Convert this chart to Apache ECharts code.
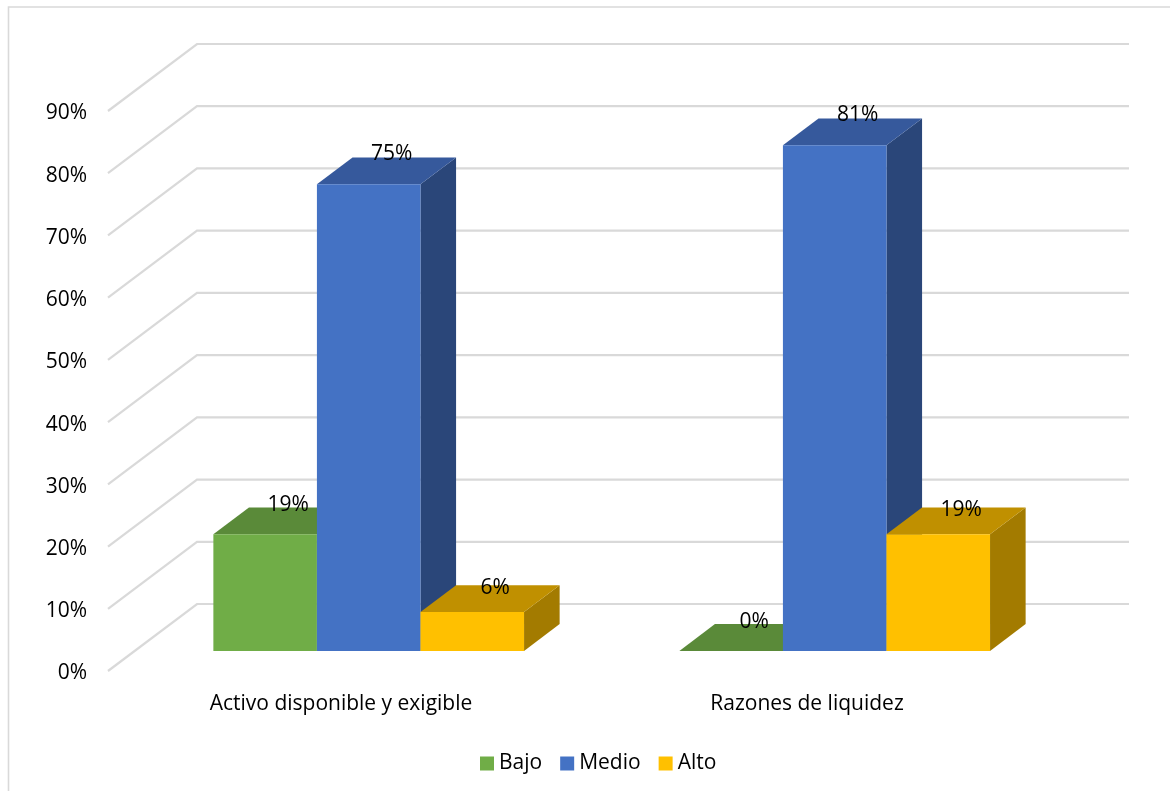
<!DOCTYPE html>
<html><head><meta charset="utf-8">
<style>html,body{margin:0;padding:0;background:#fff}#c{width:1170px;height:791px}</style>
<script src="https://cdn.jsdelivr.net/npm/echarts@6/dist/echarts.min.js"></script>
</head><body><div id="c"></div>
<script>
const categories = ["Activo disponible y exigible", "Razones de liquidez"];
const bajo = [18.75, 0];
const medio = [75, 81.25];
const alto = [6.25, 18.75];
const yTicks = [0,10,20,30,40,50,60,70,80,90];
const seriesNames = ["Bajo","Medio","Alto"];
const faceColors = [
  {front:"#70AD47", top:"#5A8A39", side:"#436A2B"},
  {front:"#4472C4", top:"#36599C", side:"#2A4679"},
  {front:"#FFC000", top:"#C09000", side:"#A37B00"}
];
const labelLift = [29, 30, 24];
const FONT = '"Open Sans"';
const wallDX = 89, wallDY = 67;
const gapF = 0.3, barF = 0.4;

function wallItem(params, api){
  const cs = params.coordSys;
  const p = api.coord([0, api.value(0)]);
  const y = p[1], l = cs.x, r = cs.x + cs.width;
  return {type:"group", silent:true, children:[
    {type:"polyline", shape:{points:[[l,y],[l+wallDX,y-wallDY],[r+wallDX,y-wallDY]]},
     style:{fill:null, stroke:"#D9D9D9", lineWidth:2.2}}
  ]};
}
function barRender(idx){
  return function(params, api){
    const cat = api.value(0), val = api.value(1);
    const base = api.coord([cat,0]), top = api.coord([cat,val]);
    const band = api.size([1,0])[0];
    const w = band*2/9;
    const ox = wallDX*gapF + 1, oy = wallDY*gapF;
    const dx = wallDX*barF, dy = wallDY*barF;
    const x0 = base[0]-1.5*w+idx*w+ox, x1 = x0+w;
    const yb = base[1]-oy, yt = top[1]-oy;
    const c = faceColors[idx];
    return {type:"group", children:[
      {type:"polygon", shape:{points:[[x1,yt],[x1+dx,yt-dy],[x1+dx,yb-dy],[x1,yb]]}, style:{fill:c.side}},
      {type:"polygon", shape:{points:[[x0,yt],[x0+dx,yt-dy],[x1+dx,yt-dy],[x1,yt]]}, style:{fill:c.top}},
      {type:"rect", shape:{x:x0,y:yt,width:w,height:yb-yt}, style:{fill:c.front}},
      {type:"text", z2:50, style:{x:(x0+x1)/2+23, y:yt-labelLift[idx], text:Math.round(val)+"%",
        fill:"#000", font:'21px '+FONT, align:"center", verticalAlign:"middle"}}
    ]};
  };
}
const valueSets = [bajo, medio, alto];
const chart = echarts.init(document.getElementById("c"), null, {renderer:"canvas"});
chart.setOption({
  animation:false,
  backgroundColor:"#fff",
  textStyle:{fontFamily:FONT},
  grid:{left:108, right:130, top:111, bottom:120, containLabel:false},
  legend:{
    data:seriesNames.map((n,i)=>({name:n, icon:"rect", itemStyle:{color:faceColors[i].front}})),
    left:475, top:748, itemWidth:14, itemHeight:14, itemGap:18,
    textStyle:{fontSize:21, color:"#000", fontFamily:FONT}
  },
  xAxis:{type:"category", data:categories, axisLine:{show:false}, axisTick:{show:false}, splitLine:{show:false},
    axisLabel:{fontSize:21, color:"#000", margin:23, fontFamily:FONT}},
  yAxis:{type:"value", min:0, max:90, interval:10, axisLine:{show:false}, axisTick:{show:false}, splitLine:{show:false},
    axisLabel:{color:"#000", margin:21, formatter:"{a|{value}%}", fontFamily:FONT,
      rich:{a:{fontSize:21, color:"#000", fontFamily:FONT, padding:[5,0,0,0]}}}},
  series:[
    {type:"custom", name:"walls", coordinateSystem:"cartesian2d", clip:false, silent:true, z:1,
     data:yTicks.map(v=>[v]), encode:{y:0}, renderItem:wallItem},
    ...seriesNames.map((n,i)=>({
      type:"custom", name:n, coordinateSystem:"cartesian2d", clip:false, z:2+i,
      itemStyle:{color:faceColors[i].front},
      data:valueSets[i].map((v,k)=>[k,v]), encode:{x:0,y:1}, renderItem:barRender(i)
    }))
  ],
  graphic:[{type:"polyline", silent:true, z:0,
    shape:{points:[[8.5,791],[8.5,7],[1170,7]]}, style:{fill:null, stroke:"#D9D9D9", lineWidth:1.6}}]
});
</script></body></html>
